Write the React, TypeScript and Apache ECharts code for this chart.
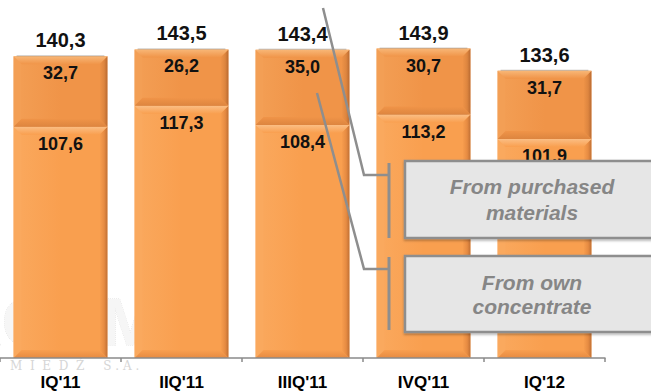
import React, { useEffect, useRef } from "react";
import * as echarts from "echarts";

// Quarterly output, thousand tonnes
const categories = ["IQ'11", "IIQ'11", "IIIQ'11", "IVQ'11", "IQ'12"];
const ownConcentrate = [107.6, 117.3, 108.4, 113.2, 101.9];
const purchasedMaterials = [32.7, 26.2, 35.0, 30.7, 31.7];
const totals = [140.3, 143.5, 143.4, 143.9, 133.6];

const fmt = (v: number) => v.toFixed(1).replace(".", ",");
const FONT = "Liberation Sans";

type Palette = { body: string; light: string; side: string; dark: string; edge: string };

const ownPalette: Palette = {
  body: "#F99F4F",
  light: "#FBBE84",
  side: "#FAA95E",
  dark: "#E68B42",
  edge: "#C07035",
};
const purchasedPalette: Palette = {
  body: "#F09448",
  light: "#F8B777",
  side: "#F39F55",
  dark: "#DD853F",
  edge: "#B96A31",
};

function bevelSegment(pal: Palette, withTotal: boolean) {
  return (params: any, api: any) => {
    const idx = params.dataIndex;
    const lo = api.value(1);
    const hi = api.value(2);
    const top = api.coord([api.value(0), hi]);
    const bot = api.coord([api.value(0), lo]);
    const w = api.size([1, 0])[0] * 0.775;
    const cx = top[0];
    const x0 = cx - w / 2;
    const x1 = cx + w / 2;
    const y0 = top[1];
    const y1 = bot[1];
    const b = 8;
    const children: any[] = [
      {
        type: "rect",
        shape: { x: x0, y: y0, width: w, height: y1 - y0 },
        style: {
          fill: new echarts.graphic.LinearGradient(0, 0, 1, 0, [
            { offset: 0, color: pal.side },
            { offset: 0.5, color: pal.body },
            { offset: 1, color: pal.body },
          ]),
        },
      },
      {
        type: "polygon",
        shape: { points: [[x0, y0], [x0 + b, y0 + b], [x0 + b, y1 - b], [x0, y1]] },
        style: { fill: pal.side },
      },
      {
        type: "polygon",
        shape: { points: [[x1, y0], [x1, y1], [x1 - b, y1 - b], [x1 - b, y0 + b]] },
        style: {
          fill: new echarts.graphic.LinearGradient(0, 0, 1, 0, [
            { offset: 0, color: pal.body },
            { offset: 0.6, color: pal.dark },
            { offset: 1, color: pal.edge },
          ]),
        },
      },
      {
        type: "polygon",
        shape: { points: [[x0, y1], [x1, y1], [x1 - b, y1 - b], [x0 + b, y1 - b]] },
        style: {
          fill: new echarts.graphic.LinearGradient(0, 0, 0, 1, [
            { offset: 0, color: pal.body },
            { offset: 1, color: pal.dark },
          ]),
        },
      },
      {
        type: "polygon",
        shape: { points: [[x0, y0], [x1, y0], [x1 - b, y0 + b], [x0 + b, y0 + b]] },
        style: {
          fill: new echarts.graphic.LinearGradient(0, 0, 0, 1, [
            { offset: 0, color: pal.light },
            { offset: 1, color: pal.body },
          ]),
        },
      },
      {
        type: "line",
        shape: { x1: x0 + 3, y1: y0 - 0.5, x2: x1 - 3, y2: y0 - 0.5 },
        style: { stroke: "rgba(120,110,100,0.45)", lineWidth: 1 },
      },
      {
        type: "text",
        x: cx,
        y: y0 + 17,
        style: {
          text: fmt(hi - lo),
          fill: "#111",
          fontFamily: FONT,
          fontWeight: "bold",
          fontSize: 18,
          align: "center",
          verticalAlign: "middle",
        },
      },
    ];
    if (withTotal) {
      children.push({
        type: "text",
        x: cx,
        y: y0 - 16,
        style: {
          text: fmt(totals[idx]),
          fill: "#111",
          fontFamily: FONT,
          fontWeight: "bold",
          fontSize: 20,
          align: "center",
          verticalAlign: "middle",
        },
      });
    }
    return { type: "group", children };
  };
}

const GRAY = "#8E8E8E";

function calloutBox(y: number, h: number, text: string, lineHeight: number) {
  return [
    {
      type: "rect",
      z: 100,
      shape: { x: 405, y, width: 270, height: h },
      style: {
        fill: "#E6E6E6",
        stroke: GRAY,
        lineWidth: 2.5,
        shadowBlur: 2,
        shadowOffsetY: 1.5,
        shadowColor: "rgba(0,0,0,0.3)",
      },
    },
    {
      type: "text",
      z: 101,
      x: 532,
      y: y + h / 2,
      style: {
        text,
        fontFamily: FONT,
        fontWeight: "bold",
        fontStyle: "italic",
        fontSize: 21,
        lineHeight,
        fill: "#868686",
        align: "center",
        verticalAlign: "middle",
      },
    },
  ];
}

export default function App() {
  const ref = useRef<HTMLDivElement>(null);

  useEffect(() => {
    if (!ref.current) return;
    const chart = echarts.init(ref.current, null, { renderer: "svg" });

    const ownData = categories.map((_, i) => [i, 0, ownConcentrate[i]]);
    const purchasedData = categories.map((_, i) => [
      i,
      ownConcentrate[i],
      ownConcentrate[i] + purchasedMaterials[i],
    ]);

    chart.setOption({
      animation: false,
      backgroundColor: "#ffffff",
      grid: { left: -4, right: 46, top: 14, bottom: 30 },
      xAxis: {
        type: "category",
        data: categories,
        axisLine: { lineStyle: { color: "#8a8a8a", width: 1.5 } },
        axisTick: { show: true, length: 4, lineStyle: { color: "#8a8a8a", width: 1.5 } },
        axisLabel: {
          color: "#000",
          fontFamily: FONT,
          fontWeight: "bold",
          fontSize: 17,
          margin: 16,
        },
        z: 5,
      },
      yAxis: { type: "value", min: 0, max: 160, show: false, splitLine: { show: false } },
      series: [
        {
          name: "From own concentrate",
          type: "custom",
          renderItem: bevelSegment(ownPalette, false),
          encode: { x: 0, y: [1, 2] },
          data: ownData,
          z: 2,
        },
        {
          name: "From purchased materials",
          type: "custom",
          renderItem: bevelSegment(purchasedPalette, true),
          encode: { x: 0, y: [1, 2] },
          data: purchasedData,
          z: 2,
        },
      ],
      graphic: [
        // faint company logo behind the bars
        {
          type: "text",
          x: 158,
          y: 321,
          z: -1,
          style: {
            text: "KGHM",
            fontFamily: FONT,
            fontWeight: "bold",
            fontSize: 67,
            fill: "#F6F6F6",
            stroke: "#DCDCDC",
            lineWidth: 0.8,
            lineDash: [1, 1],
            align: "right",
            verticalAlign: "middle",
          },
        },
        {
          type: "text",
          x: 10,
          y: 366,
          z: -1,
          style: {
            text: "M  I  E  D  Ź     S . A .",
            fontFamily: "DejaVu Serif",
            fontSize: 12,
            fill: "#D6D6D6",
            align: "left",
            verticalAlign: "middle",
          },
        },
        // callout leaders
        {
          type: "polyline",
          z: 100,
          shape: { points: [[323, 8], [364, 175], [389, 175]] },
          style: { stroke: GRAY, lineWidth: 2.5, fill: "none" },
        },
        {
          type: "line",
          z: 100,
          shape: { x1: 389, y1: 163, x2: 389, y2: 238 },
          style: { stroke: GRAY, lineWidth: 3 },
        },
        {
          type: "polyline",
          z: 100,
          shape: { points: [[317, 93], [364, 269], [389, 269]] },
          style: { stroke: GRAY, lineWidth: 2.5, fill: "none" },
        },
        {
          type: "line",
          z: 100,
          shape: { x1: 389, y1: 257, x2: 389, y2: 330 },
          style: { stroke: GRAY, lineWidth: 3 },
        },
        // callout boxes
        ...calloutBox(161, 77, "From purchased\nmaterials", 26),
        ...calloutBox(256, 76, "From own\nconcentrate", 24),
      ],
    });

    return () => chart.dispose();
  }, []);

  return (
    <div
      ref={ref}
      style={{ position: "fixed", left: 0, top: 0, width: 651, height: 391, background: "#fff" }}
    />
  );
}
